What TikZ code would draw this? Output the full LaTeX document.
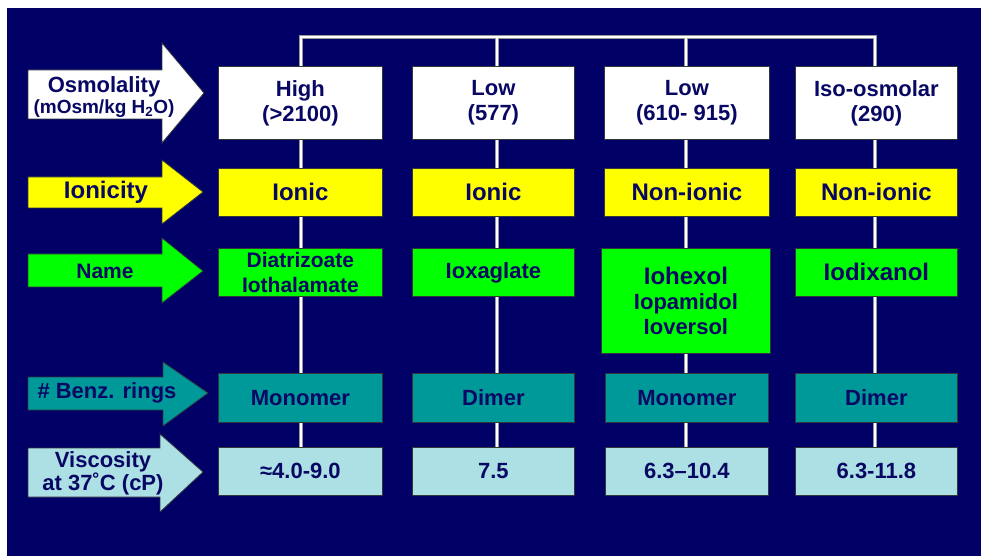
\documentclass[tikz,border=0pt]{standalone}
\usepackage{fontspec}
\setmainfont{Liberation Sans}
\definecolor{navy}{RGB}{0,0,102}
\definecolor{txt}{RGB}{8,8,100}
\definecolor{edge}{RGB}{50,55,60}
\definecolor{ylw}{RGB}{255,255,0}
\definecolor{grn}{RGB}{0,255,0}
\definecolor{teal}{RGB}{0,153,153}
\definecolor{pale}{RGB}{172,224,228}
\pgfdeclarelayer{back}
\pgfdeclarelayer{mid}
\pgfsetlayers{back,mid,main}
\tikzset{
  box/.style={draw=edge, line width=0.8bp, text=txt, inner sep=0pt, align=center, anchor=north west},
  arr/.style={draw=edge, line width=0.8bp},
  lbl/.style={text=txt, inner sep=0pt, align=center},
  fa/.style={font=\fontsize{22bp}{25bp}\selectfont\bfseries},
  fb/.style={font=\fontsize{24bp}{25bp}\selectfont\bfseries},
  fc/.style={font=\fontsize{22bp}{20bp}\selectfont\bfseries},
  wbox/.style={box, fill=white, fa, minimum height=73bp},
  ybox/.style={box, fill=ylw, fb, minimum height=48bp},
  gbox/.style={box, fill=grn, fa, minimum height=48bp},
  tbox/.style={box, fill=teal, fa, minimum height=49bp},
  pbox/.style={box, fill=pale, fa, minimum height=48bp},
  wireunder/.style={draw={rgb,255:red,150;green,150;blue,160}, line width=4.2bp, line join=miter},
  wireover/.style={draw=white, line width=2.4bp, line join=miter},
}
\begin{document}
\begin{tikzpicture}[x=1bp,y=-1bp]
\useasboundingbox (0,0) rectangle (981,556);
\begin{pgfonlayer}{back}
\fill[white] (0,0) rectangle (981,556);
\fill[navy] (7,8) rectangle (981,556);
\end{pgfonlayer}

% left arrows
\path[arr, fill=white] (28,70) -- (162,70) -- (162,43) -- (204,93) -- (162,143) -- (162,119) -- (28,119) -- cycle;
\node[lbl, font=\fontsize{19bp}{21bp}\selectfont\bfseries] (aOsm) at (104,97) {{\fontsize{22bp}{21bp}\selectfont Osmolality}\\(mOsm/kg H\textsubscript{2}O)};

\path[arr, fill=ylw] (28,177) -- (162,177) -- (162,160) -- (203,192) -- (162,224) -- (162,208) -- (28,208) -- cycle;
\node[lbl, fb] (aIon) at (106,192) {Ionicity};

\path[arr, fill=grn] (28,254) -- (162,254) -- (162,238) -- (203,271) -- (162,303) -- (162,287) -- (28,287) -- cycle;
\node[lbl, font=\fontsize{21bp}{25bp}\selectfont\bfseries] (aName) at (105,271) {Name};

\path[arr, fill=teal] (28,377) -- (163,377) -- (163,362) -- (208,393) -- (163,426) -- (163,410) -- (28,410) -- cycle;
\node[lbl, fa] (aBenz) at (107,393) {\# Benz. rings};

\path[arr, fill=pale] (28,448) -- (160,448) -- (160,434) -- (203,472) -- (160,512) -- (160,497) -- (28,497) -- cycle;
\node[lbl, fc] (aVisc) at (103,473) {Viscosity\\at 37˚C (cP)};

% row 1: osmolality
\node[wbox, minimum width=164bp] (h1) at (218,66) {High\\(>2100)};
\node[wbox, minimum width=162bp] (h2) at (412,66) {Low\\(577)};
\node[wbox, minimum width=165bp] (h3) at (604,66) {Low\\(610- 915)};
\node[wbox, minimum width=162bp] (h4) at (795,66) {Iso-osmolar\\(290)};

% row 2: ionicity
\node[ybox, minimum width=164bp] (i1) at (218,168) {Ionic};
\node[ybox, minimum width=162bp] (i2) at (412,168) {Ionic};
\node[ybox, minimum width=165bp] (i3) at (604,168) {Non-ionic};
\node[ybox, minimum width=162bp] (i4) at (795,168) {Non-ionic};

% row 3: name
\node[gbox, minimum width=164bp, font=\fontsize{21bp}{25bp}\selectfont\bfseries] (n1) at (218,248) {Diatrizoate\\Iothalamate};
\node[gbox, minimum width=162bp] (n2) at (412,248) {Ioxaglate};
\node[gbox, minimum width=169bp, minimum height=105bp] (n3) at (601,248) {{\fontsize{24bp}{25bp}\selectfont\bfseries Iohexol}\\Iopamidol\\Ioversol};
\node[gbox, minimum width=162bp, fb] (n4) at (795,248) {Iodixanol};

% row 4: benzene rings
\node[tbox, minimum width=164bp] (b1) at (218,373) {Monomer};
\node[tbox, minimum width=162bp] (b2) at (412,373) {Dimer};
\node[tbox, minimum width=163bp] (b3) at (605,373) {Monomer};
\node[tbox, minimum width=162bp] (b4) at (795,373) {Dimer};

% row 5: viscosity
\node[pbox, minimum width=164bp] (v1) at (218,447) {≈4.0-9.0};
\node[pbox, minimum width=162bp] (v2) at (412,447) {7.5};
\node[pbox, minimum width=163bp] (v3) at (605,447) {6.3–10.4};
\node[pbox, minimum width=162bp] (v4) at (795,447) {6.3-11.8};

% wires
\coordinate (t1) at (301,37);
\coordinate (t2) at (497,37);
\coordinate (t3) at (686,37);
\coordinate (t4) at (875,37);
\begin{pgfonlayer}{mid}
\foreach \s in {wireunder, wireover}{
  \draw[\s] (t1 |- v1.north) -- (t1) -- (t4) -- (t4 |- v4.north);
  \draw[\s] (t2) -- (t2 |- v2.north);
  \draw[\s] (t3) -- (t3 |- v3.north);
}
\end{pgfonlayer}
\end{tikzpicture}
\end{document}
